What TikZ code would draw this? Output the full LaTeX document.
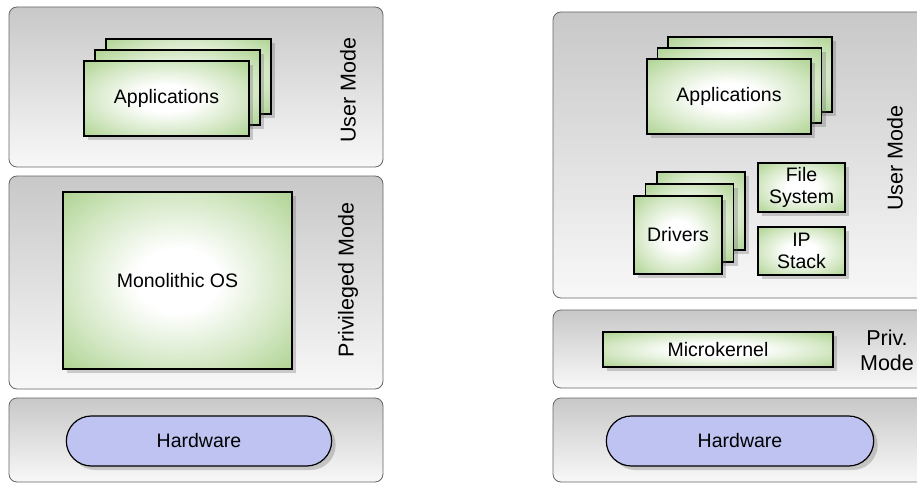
\documentclass[tikz,border=0pt]{standalone}
\usepackage{fontspec}
\setmainfont{Liberation Sans}
\usepackage{tikz}
\usetikzlibrary{shadows,shapes.misc}

\definecolor{panelgray}{RGB}{200,200,200}
\definecolor{panelwhite}{RGB}{248,248,248}
\definecolor{boxgreen}{RGB}{176,212,148}
\definecolor{hwblue}{RGB}{190,195,242}

\pgfdeclareradialshading{greenglow}{\pgfpoint{0bp}{0bp}}{%
  color(0bp)=(white); color(9bp)=(white); color(24bp)=(boxgreen!55);
  color(35bp)=(boxgreen); color(50bp)=(boxgreen)}

\tikzset{
  layer/.style={draw=black!60, rounded corners=8pt, top color=panelgray,
    bottom color=panelwhite, minimum width=374pt, line width=0.8pt},
  comp/.style={draw=black, line width=1.2pt, shade, shading=greenglow,
    drop shadow={shadow xshift=4pt, shadow yshift=-4pt, opacity=0.3, fill=black!60},
    align=center, font=\fontsize{19.5}{22}\selectfont},
  hw/.style={rounded rectangle, draw=black, line width=1.2pt, fill=hwblue,
    drop shadow={shadow xshift=4pt, shadow yshift=-4pt, opacity=0.3, fill=black!60},
    minimum width=272pt, minimum height=50pt, font=\fontsize{19.5}{22}\selectfont},
  mode/.style={align=center, font=\fontsize{21.5}{25}\selectfont}
}

\begin{document}
\begin{tikzpicture}[x=1pt,y=1pt]
\useasboundingbox (0,0) rectangle (917,483);

% monolithic kernel
\node[layer, minimum height=160pt] (userL) at (196,396) {};
\node[layer, minimum height=213pt] (privL) at (196,200.5) {};
\node[layer, minimum height=84pt] (hwL) at (196,43) {};

\node[comp, minimum width=165pt, minimum height=75pt] (appL3) at (188.5,406.5) {};
\node[comp, minimum width=165pt, minimum height=75pt] (appL2) at (177.5,395.5) {};
\node[comp, minimum width=165pt, minimum height=75pt] (appL) at (166.5,384.5) {Applications};
\node[mode, rotate=90] (umL) at (348,393) {User Mode};

\node[comp, minimum width=229pt, minimum height=177pt] (mono) at (177.5,202.5) {Monolithic OS};
\node[mode, rotate=90] (pmL) at (348,203) {Privileged Mode};

\node[hw] (hardL) at (199,42) {Hardware};

% microkernel
\node[layer, minimum height=286pt] (userR) at (740,328) {};
\node[layer, minimum height=78pt] (privR) at (740,134) {};
\node[layer, minimum height=84pt] (hwR) at (740,43) {};

\node[comp, minimum width=164pt, minimum height=75pt] (appR3) at (750,408.5) {};
\node[comp, minimum width=164pt, minimum height=75pt] (appR2) at (739.5,397.5) {};
\node[comp, minimum width=164pt, minimum height=75pt] (appR) at (729,386.5) {Applications};

\node[comp, minimum width=88pt, minimum height=78pt] (drv3) at (701,272) {};
\node[comp, minimum width=88pt, minimum height=78pt] (drv2) at (689.5,260) {};
\node[comp, minimum width=88pt, minimum height=78pt] (drv) at (678,248) {Drivers};

\node[comp, minimum width=87pt, minimum height=49pt, inner sep=1pt] (fs) at (801.5,295.5) {File\\System};
\node[comp, minimum width=87pt, minimum height=48pt, inner sep=1pt] (ip) at (801.5,232) {IP\\Stack};
\node[mode, rotate=90] (umR) at (895,325) {User Mode};

\node[comp, minimum width=230pt, minimum height=35pt] (ukern) at (718,133.5) {Microkernel};
\node[mode] (pmR) at (887,133) {Priv.\\Mode};

\node[hw, minimum width=274pt] (hardR) at (740,42) {Hardware};
\end{tikzpicture}
\end{document}
